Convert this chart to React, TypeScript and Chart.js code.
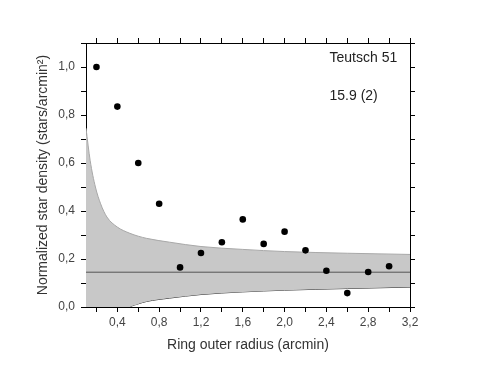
import React, { useEffect, useRef } from "react";
import { Chart, registerables } from "chart.js";

Chart.register(...registerables);

// Observed ring densities
const ringRadius = [0.2, 0.4, 0.6, 0.8, 1.0, 1.2, 1.4, 1.6, 1.8, 2.0, 2.2, 2.4, 2.6, 2.8, 3.0];
const starDensity = [1.0, 0.835, 0.6, 0.43, 0.165, 0.225, 0.27, 0.365, 0.263, 0.314, 0.236, 0.151, 0.058, 0.146, 0.17];

// Background level and its confidence band
const background = 0.145;
const bandX = [0.1, 0.14, 0.19, 0.24, 0.3, 0.4, 0.52, 0.6, 0.68, 0.9, 1.2, 1.6, 2.0, 2.6, 3.2];
const bandUpper = [0.745, 0.61, 0.5, 0.43, 0.375, 0.333, 0.307, 0.295, 0.286, 0.27, 0.252, 0.24, 0.231, 0.224, 0.219];
const bandLower = [-0.5, -0.34, -0.23, -0.16, -0.1, -0.045, 0.0, 0.013, 0.023, 0.037, 0.052, 0.063, 0.07, 0.077, 0.083];

const xRange = [0.1, 3.2];
const yRange = [0, 1.1];

const clusterName = "Teutsch 51";
const clusterNote = "15.9 (2)";
const xTitle = "Ring outer radius (arcmin)";
const yTitle = "Normalized star density (stars/arcmin\u00B2)";

const fmt = (v: number) => v.toFixed(1).replace(".", ",");

export default function App() {
  const ref = useRef<HTMLCanvasElement>(null);
  useEffect(() => {
    if (!ref.current) return;
    Chart.defaults.font.family = "'Liberation Sans', Arial, sans-serif";
    const textPlugin = {
      id: "labels",
      afterDatasetsDraw(chart: any) {
        const { ctx, scales } = chart;
        ctx.save();
        ctx.fillStyle = "#222";
        ctx.font = "14px 'Liberation Sans', Arial, sans-serif";
        ctx.textAlign = "left";
        ctx.textBaseline = "middle";
        ctx.fillText(clusterName, scales.x.getPixelForValue(2.43), scales.y.getPixelForValue(1.036));
        ctx.fillText(clusterNote, scales.x.getPixelForValue(2.43), scales.y.getPixelForValue(0.878));
        ctx.restore();
      },
    };
    const tickCommon = { color: "#444", font: { size: 12 }, autoSkip: false, maxRotation: 0, includeBounds: false };
    const gridCommon = { drawOnChartArea: false, drawTicks: true, tickLength: 5, tickColor: "#000", tickWidth: 1 };
    const border = { display: true, color: "#000", width: 1 };
    const chart = new Chart(ref.current, {
      type: "line",
      data: {
        datasets: [
          {
            label: "density",
            data: ringRadius.map((x, i) => ({ x, y: starDensity[i] })),
            showLine: false,
            pointRadius: 3.3,
            pointBackgroundColor: "#000",
            pointBorderColor: "#000",
            borderWidth: 0,
          },
          {
            label: "background",
            data: [{ x: xRange[0], y: background }, { x: xRange[1], y: background }],
            borderColor: "#555",
            borderWidth: 1,
            pointRadius: 0,
            fill: false,
          },
          {
            label: "upper",
            data: bandX.map((x, i) => ({ x, y: bandUpper[i] })),
            borderColor: "#a8a8a8",
            borderWidth: 1,
            pointRadius: 0,
            cubicInterpolationMode: "monotone",
            fill: "+1",
            backgroundColor: "#c8c8c8",
          },
          {
            label: "lower",
            data: bandX.map((x, i) => ({ x, y: bandLower[i] })),
            borderColor: "#333",
            borderWidth: 1,
            pointRadius: 0,
            cubicInterpolationMode: "monotone",
            fill: false,
          },
        ],
      },
      options: {
        animation: false,
        responsive: false,
        events: [],
        layout: { padding: { left: 0, top: 33, right: 57, bottom: 0 } },
        plugins: { legend: { display: false }, tooltip: { enabled: false } },
        scales: {
          x: {
            type: "linear",
            position: "bottom",
            min: xRange[0],
            max: xRange[1],
            border,
            grid: gridCommon,
            ticks: {
              ...tickCommon,
              stepSize: 0.2,
              padding: 3,
              callback: (v: any) => {
                const n = Math.round(v * 10);
                return n % 4 === 0 ? fmt(v) : "";
              },
            },
            title: { display: true, text: xTitle, color: "#333", font: { size: 14 }, padding: { top: 0, bottom: 15.6 } },
            afterFit: (s: any) => { s.height = 62; },
          },
          x2: {
            type: "linear",
            position: "top",
            min: xRange[0],
            max: xRange[1],
            border,
            grid: gridCommon,
            ticks: { ...tickCommon, stepSize: 0.2, display: false },
            afterFit: (s: any) => { s.height = 10; },
          },
          y: {
            type: "linear",
            position: "left",
            min: yRange[0],
            max: yRange[1],
            border,
            grid: gridCommon,
            ticks: {
              ...tickCommon,
              stepSize: 0.1,
              padding: 6,
              callback: (v: any) => {
                const n = Math.round(v * 10);
                return n % 2 === 0 ? fmt(v) : "";
              },
            },
            title: { display: true, text: yTitle, color: "#333", font: { size: 14 }, padding: { top: 34.6, bottom: 0 } },
            afterFit: (s: any) => { s.width = 86; },
          },
          y2: {
            type: "linear",
            position: "right",
            min: yRange[0],
            max: yRange[1],
            border,
            grid: gridCommon,
            ticks: { ...tickCommon, stepSize: 0.1, display: false },
            afterFit: (s: any) => { s.width = 10; },
          },
        },
      },
      plugins: [textPlugin],
    } as any);
    return () => chart.destroy();
  }, []);
  return (
    <div style={{ position: "absolute", left: 0, top: 0, width: 477, height: 369, background: "#fff" }}>
      <canvas ref={ref} width={477} height={369} style={{ display: "block" }} />
    </div>
  );
}
